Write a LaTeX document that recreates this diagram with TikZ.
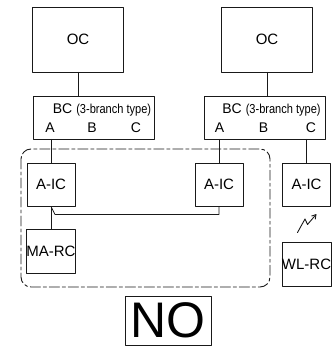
\documentclass[tikz,border=0pt]{standalone}
\usepackage{fontspec}
\setmainfont{Liberation Sans}
\newfontfamily\narrowsans[FakeStretch=0.85]{Liberation Sans}
\usetikzlibrary{arrows.meta}
\begin{document}
\begin{tikzpicture}[x=1pt,y=-1pt,line cap=round,line join=round,
    unit/.style={draw=black!90,line width=0.8pt,inner sep=0pt,
      font=\fontsize{15}{16}\selectfont},
    wire/.style={draw=black!90,line width=0.8pt},
    port/.style={inner sep=0pt,font=\fontsize{14}{16}\selectfont}]
  \useasboundingbox (0,0) rectangle (331,347);
  % outdoor units
  \foreach \n/\x in {L/78,R/267}{
    \node[unit,minimum width=91pt,minimum height=65pt] (oc\n) at (\x,39.5) {OC};
  }
  % branch controllers
  \foreach \n/\x/\t in {L/93.5/102,R/265/271.5}{
    \node[unit,minimum width=121pt,minimum height=43pt] (bc\n) at (\x,117.5) {};
    \node[port] (bc\n-t) at (\t,109.5)
      {BC\hspace{4pt}{\narrowsans\fontsize{13}{15}\selectfont(3-branch type)}};
  }
  \foreach \n/\a/\b/\c in {L/50/92/136,R/219.5/263.5/311}{
    \node[port] (bc\n-A) at (\a,128) {A};
    \node[port] (bc\n-B) at (\b,128) {B};
    \node[port] (bc\n-C) at (\c,128) {C};
  }
  % indoor units and remote controllers
  \foreach \n/\x in {icL/51,icM/219,icR/306.5}{
    \node[unit,minimum width=48pt,minimum height=43pt] (\n) at (\x,184.5) {A-IC};
  }
  \node[unit,minimum width=48pt,minimum height=44pt] (marc) at (51,251) {MA-RC};
  \node[unit,minimum width=47pt,minimum height=44pt] (wlrc) at (306.5,264) {WL-RC};
  \node[unit,minimum width=86pt,minimum height=49pt,
    font=\fontsize{50}{50}\selectfont] (no) at (168,320.5) {NO};

  \foreach \n in {L,R}{
    \draw[wire] (oc\n.south) -- (oc\n.south |- bc\n.north);
  }
  \draw[wire] (icL.north) -- (icL.north |- bcL.south);
  \draw[wire] (icM.north) -- (icM.north |- bcR.south);
  \draw[wire] (icR.north) -- (icR.north |- bcR.south);
  \draw[wire] (icL.south) -- (marc.north);
  \draw[wire] (icL.south) -- ++(4,8) -| (icM.south);
  % wireless link
  \draw[wire,line width=0.9pt,-{Straight Barb[length=4pt,width=5pt]}]
    (297.5,232.5) -- (305,219) -- (307.5,224.5) -- (316.5,214);
  % group frame
  \draw[wire,line width=0.9pt,dash pattern=on 10pt off 3pt on 3pt off 3pt,
    rounded corners=10pt] (21,149) rectangle (270,287);
\end{tikzpicture}
\end{document}
